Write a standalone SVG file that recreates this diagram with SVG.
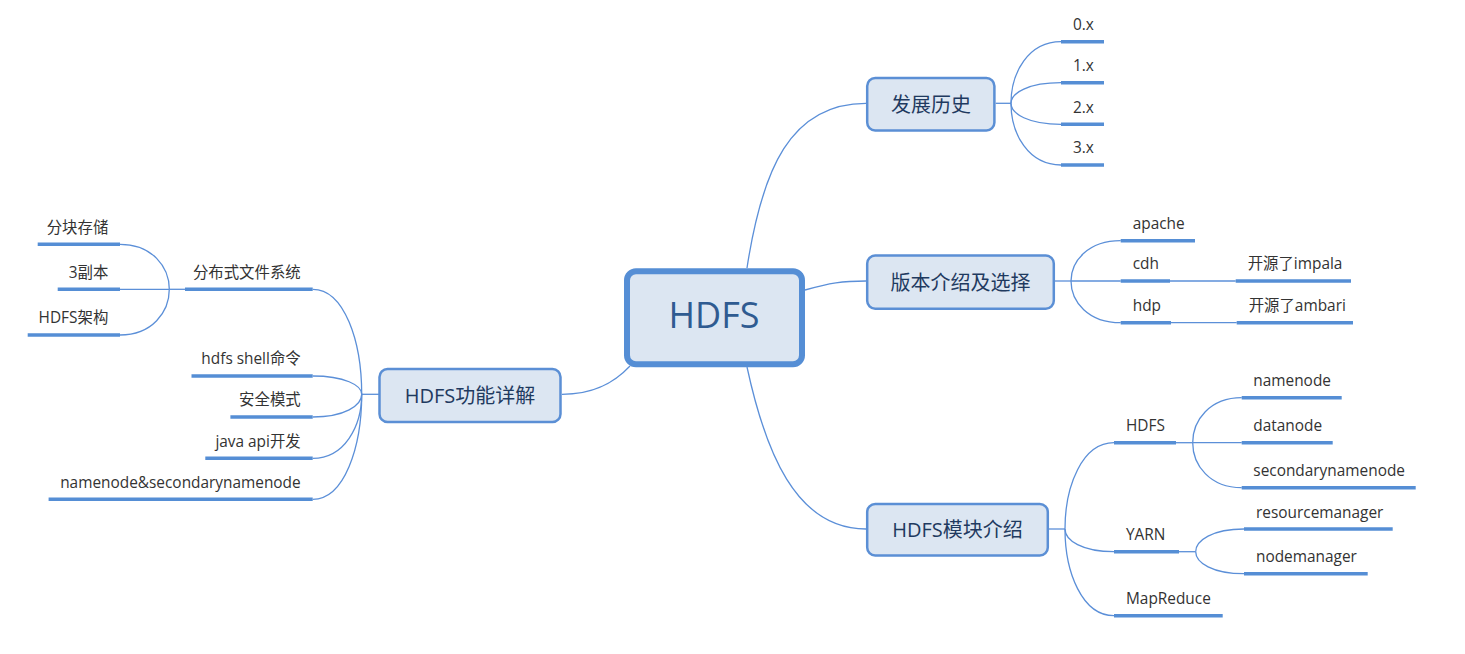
<svg xmlns="http://www.w3.org/2000/svg" width="1465" height="654" viewBox="0 0 1465 654">
<style>
.bg{fill:#ffffff}
.node{fill:#dce6f2;stroke:#5b8fd5;stroke-width:2.5}
.root{fill:#dce6f2;stroke:#558ed5;stroke-width:6}
.nt{font-family:"Open Sans","Noto Sans CJK SC",sans-serif;font-size:20px;fill:#1f3a60;text-anchor:middle}
.rt{font-family:"Open Sans","Noto Sans CJK SC",sans-serif;font-size:36px;fill:#2f5b91;text-anchor:middle}
.lt{font-family:"Open Sans","Noto Sans CJK SC",sans-serif;font-size:15.4px;fill:#333333}
.le{text-anchor:end}
.c{fill:none;stroke:#5b8fd8;stroke-width:1.3}
.u{fill:none;stroke:#558ed5;stroke-width:3.5}
</style>
<rect class="bg" x="0" y="0" width="1465" height="654"/>
<g id="connectors">
<path class="c" d="M747,268 C762,170 790,103.3 866,103.3"/>
<path class="c" d="M805,290 C830,283 842,281 866,281"/>
<path class="c" d="M747,367 C765,450 795,529 866,529"/>
<path class="c" d="M630,366 C615,382 595,394.3 562,394.3"/>
<path class="c" d="M995.7,103.3 H1011"/>
<path class="c" d="M1011,103.3 C1011,72.5 1028.5,41.7 1061,41.7"/>
<path class="c" d="M1011,103.3 C1011,93 1028.5,82.7 1061,82.7"/>
<path class="c" d="M1011,103.3 C1011,113.8 1028.5,124.3 1061,124.3"/>
<path class="c" d="M1011,103.3 C1011,134.2 1028.5,165 1061,165"/>
<path class="c" d="M1055,281 H1071"/>
<path class="c" d="M1071,281 C1071,260.9 1088.4,240.7 1120.7,240.7"/>
<path class="c" d="M1071,281 H1120.7"/>
<path class="c" d="M1071,281 C1071,301.9 1088.4,322.7 1120.7,322.7"/>
<path class="c" d="M1170,281 H1235.7"/>
<path class="c" d="M1171,322.7 H1236.7"/>
<path class="c" d="M1049,529 H1065"/>
<path class="c" d="M1065,529 C1065,485.9 1082.2,442.7 1114,442.7"/>
<path class="c" d="M1065,529 C1065,540.4 1082.2,551.7 1114,551.7"/>
<path class="c" d="M1065,529 C1065,572.4 1082.2,615.7 1114,615.7"/>
<path class="c" d="M1176,442.7 H1192.7"/>
<path class="c" d="M1192.7,442.7 C1192.7,420.2 1209.9,397.7 1241.7,397.7"/>
<path class="c" d="M1192.7,442.7 H1241.7"/>
<path class="c" d="M1192.7,442.7 C1192.7,465.2 1209.9,487.7 1241.7,487.7"/>
<path class="c" d="M1179,551.7 H1195.7"/>
<path class="c" d="M1195.7,551.7 C1195.7,540.3 1212.6,529 1244,529"/>
<path class="c" d="M1195.7,551.7 C1195.7,562.7 1212.6,573.7 1244,573.7"/>
<path class="c" d="M379.5,394.3 H361.7"/>
<path class="c" d="M361.7,394.3 C361.7,341.8 344.5,289.3 312.7,289.3"/>
<path class="c" d="M361.7,394.3 C361.7,385.2 344.5,376 312.7,376"/>
<path class="c" d="M361.7,394.3 C361.7,405.6 344.5,417 312.7,417"/>
<path class="c" d="M361.7,394.3 C361.7,426.3 344.5,458.3 312.7,458.3"/>
<path class="c" d="M361.7,394.3 C361.7,446.8 344.5,499.3 312.7,499.3"/>
<path class="c" d="M185,289.3 H169.3"/>
<path class="c" d="M169.3,289.3 C169.3,266.8 152,244.3 120,244.3"/>
<path class="c" d="M169.3,289.3 H120"/>
<path class="c" d="M169.3,289.3 C169.3,312.2 152,335 120,335"/>
</g>
<g id="root">
<rect class="root" x="627" y="271.3" width="175" height="93" rx="9"/>
<text class="rt" x="714" y="328">HDFS</text>
</g>
<g id="n-history">
<rect class="node" x="867.2" y="78" width="127.2" height="52.5" rx="8"/>
<text class="nt" x="931" y="111.7">发展历史</text>
</g>
<g id="n-history-0"><path class="u" d="M1061,41.7 H1104"/><text class="lt" x="1073" y="30">0.x</text></g>
<g id="n-history-1"><path class="u" d="M1061,82.7 H1104"/><text class="lt" x="1073" y="71">1.x</text></g>
<g id="n-history-2"><path class="u" d="M1061,124.3 H1104"/><text class="lt" x="1073" y="112.5">2.x</text></g>
<g id="n-history-3"><path class="u" d="M1061,165 H1104"/><text class="lt" x="1073" y="153.3">3.x</text></g>
<g id="n-version">
<rect class="node" x="867.2" y="255.5" width="186.6" height="53.3" rx="8"/>
<text class="nt" x="960.5" y="289.7">版本介绍及选择</text>
</g>
<g id="n-apache"><path class="u" d="M1120.7,240.7 H1195"/><text class="lt" x="1132.7" y="229">apache</text></g>
<g id="n-cdh"><path class="u" d="M1120.7,281 H1170"/><text class="lt" x="1132.7" y="269.3">cdh</text></g>
<g id="n-hdp"><path class="u" d="M1120.7,322.7 H1171"/><text class="lt" x="1132.7" y="311">hdp</text></g>
<g id="n-impala"><path class="u" d="M1235.7,281 H1351"/><text class="lt" x="1247.7" y="269.3">开源了impala</text></g>
<g id="n-ambari"><path class="u" d="M1236.7,322.7 H1353"/><text class="lt" x="1248.7" y="311">开源了ambari</text></g>
<g id="n-modules">
<rect class="node" x="867.2" y="504" width="180.6" height="51.5" rx="8"/>
<text class="nt" x="957.5" y="537.2">HDFS模块介绍</text>
</g>
<g id="n-m-hdfs"><path class="u" d="M1114,442.7 H1176"/><text class="lt" x="1126" y="431">HDFS</text></g>
<g id="n-m-yarn"><path class="u" d="M1114,551.7 H1179"/><text class="lt" x="1126" y="540">YARN</text></g>
<g id="n-m-mr"><path class="u" d="M1114,615.7 H1222.7"/><text class="lt" x="1126" y="604">MapReduce</text></g>
<g id="n-namenode"><path class="u" d="M1241.7,397.7 H1341.7"/><text class="lt" x="1253.3" y="386">namenode</text></g>
<g id="n-datanode"><path class="u" d="M1241.7,442.7 H1332.7"/><text class="lt" x="1253.3" y="431">datanode</text></g>
<g id="n-secondary"><path class="u" d="M1241.7,487.7 H1415.7"/><text class="lt" x="1253.3" y="476">secondarynamenode</text></g>
<g id="n-rm"><path class="u" d="M1244,529 H1392.7"/><text class="lt" x="1256" y="517.7">resourcemanager</text></g>
<g id="n-nm"><path class="u" d="M1244,573.7 H1367.7"/><text class="lt" x="1256" y="562.3">nodemanager</text></g>
<g id="n-features">
<rect class="node" x="379.5" y="369" width="181" height="53" rx="8"/>
<text class="nt" x="470" y="403">HDFS功能详解</text>
</g>
<g id="n-dfs"><path class="u" d="M185,289.3 H312.7"/><text class="lt le" x="300.7" y="277.8">分布式文件系统</text></g>
<g id="n-shell"><path class="u" d="M191.5,376 H312.7"/><text class="lt le" x="300.7" y="364.3">hdfs shell命令</text></g>
<g id="n-safe"><path class="u" d="M230.4,417 H312.7"/><text class="lt le" x="300.7" y="405.3">安全模式</text></g>
<g id="n-java"><path class="u" d="M205.3,458.3 H312.7"/><text class="lt le" x="300.7" y="446.6">java api开发</text></g>
<g id="n-nnsnn"><path class="u" d="M48.6,499.3 H312.7"/><text class="lt le" x="300.7" y="487.6">namenode&amp;secondarynamenode</text></g>
<g id="n-block"><path class="u" d="M37.7,244.3 H120"/><text class="lt le" x="108.3" y="232.6">分块存储</text></g>
<g id="n-replica"><path class="u" d="M57.7,289.3 H120"/><text class="lt le" x="108.3" y="277.6">3副本</text></g>
<g id="n-arch"><path class="u" d="M27.7,335 H120"/><text class="lt le" x="108.3" y="323.3">HDFS架构</text></g>
</svg>
